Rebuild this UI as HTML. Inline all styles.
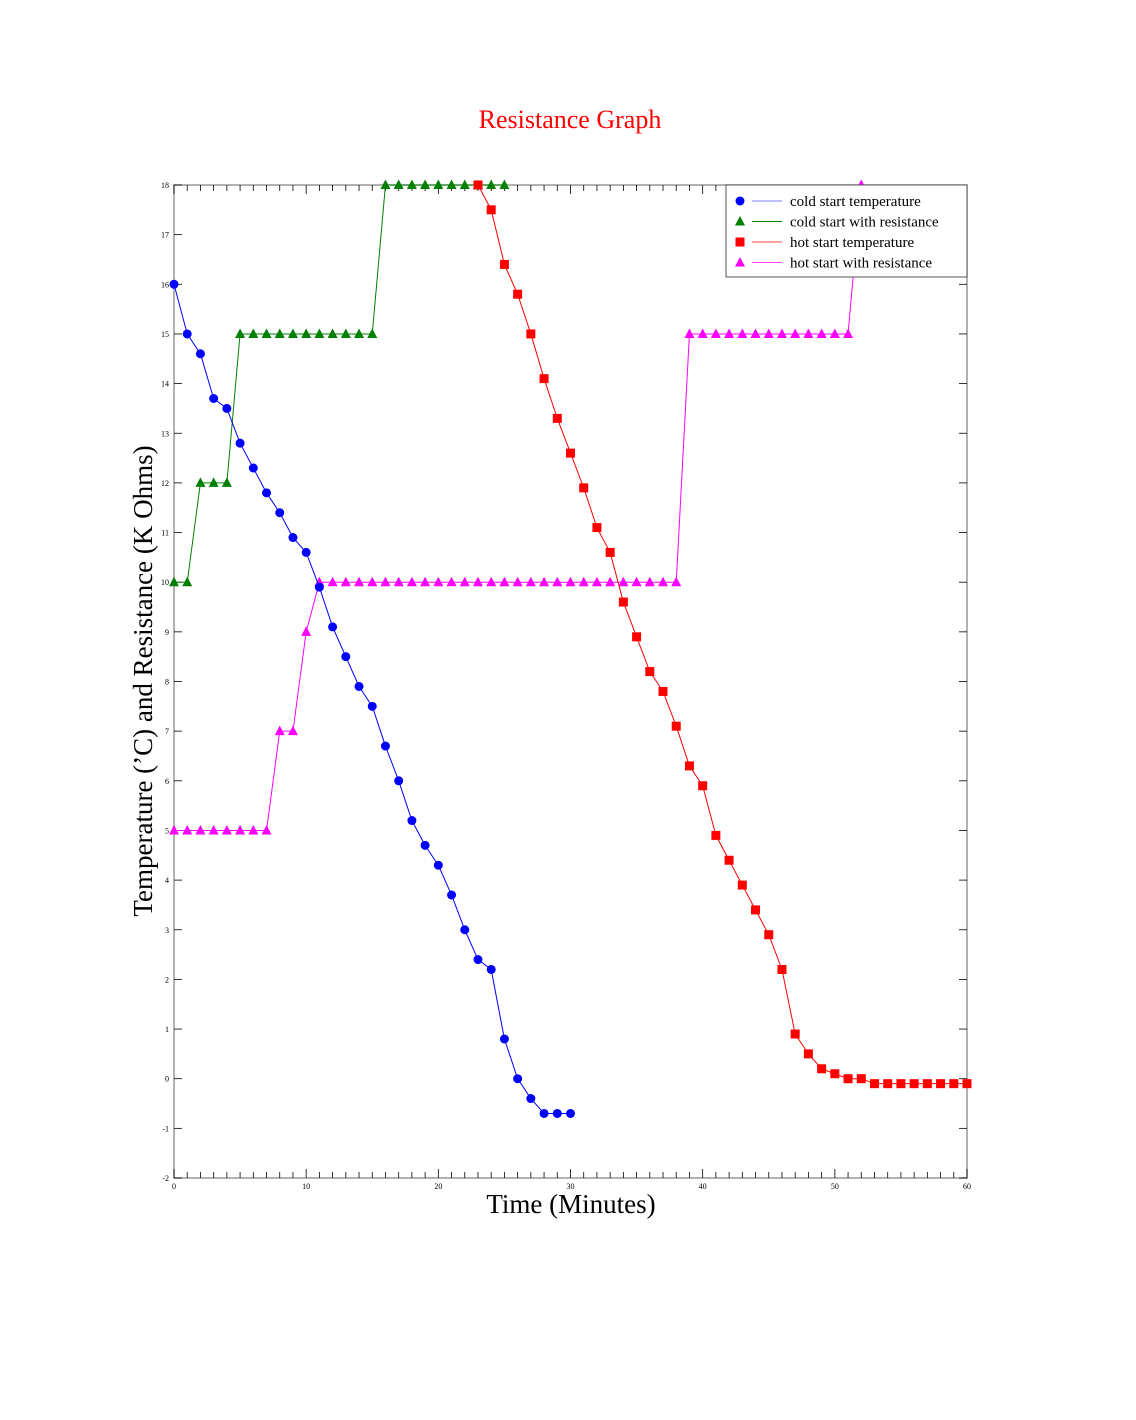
<!DOCTYPE html>
<html><head><meta charset="utf-8"><style>
html,body{margin:0;padding:0;background:#fff}
svg{display:block;font-family:"Liberation Serif",serif}
</style></head><body>
<svg id="chart" width="1136" height="1420" viewBox="0 0 1136 1420">
<text x="570" y="128" text-anchor="middle" font-size="26" fill="#ff0000">Resistance Graph</text>
<text x="571" y="1213" text-anchor="middle" font-size="27" fill="#000">Time (Minutes)</text>
<text transform="translate(152,681) rotate(-90)" text-anchor="middle" font-size="27" fill="#000">Temperature (’C) and Resistance (K Ohms)</text>
<g id="axes"></g>
<g id="series"></g>
<g id="legend"></g>
</svg>
<script>
const coldTime = [0,1,2,3,4,5,6,7,8,9,10,11,12,13,14,15,16,17,18,19,20,21,22,23,24,25,26,27,28,29,30];
const coldTemp = [16,15,14.6,13.7,13.5,12.8,12.3,11.8,11.4,10.9,10.6,9.9,9.1,8.5,7.9,7.5,6.7,6.0,5.2,4.7,4.3,3.7,3.0,2.4,2.2,0.8,0.0,-0.4,-0.7,-0.7,-0.7];
const coldResTime = [0,1,2,3,4,5,6,7,8,9,10,11,12,13,14,15,16,17,18,19,20,21,22,23,24,25];
const coldRes = [10,10,12,12,12,15,15,15,15,15,15,15,15,15,15,15,18,18,18,18,18,18,18,18,18,18];
const hotTime = [23,24,25,26,27,28,29,30,31,32,33,34,35,36,37,38,39,40,41,42,43,44,45,46,47,48,49,50,51,52,53,54,55,56,57,58,59,60];
const hotTemp = [18,17.5,16.4,15.8,15,14.1,13.3,12.6,11.9,11.1,10.6,9.6,8.9,8.2,7.8,7.1,6.3,5.9,4.9,4.4,3.9,3.4,2.9,2.2,0.9,0.5,0.2,0.1,0,0,-0.1,-0.1,-0.1,-0.1,-0.1,-0.1,-0.1,-0.1];
const hotResTime = [0,1,2,3,4,5,6,7,8,9,10,11,12,13,14,15,16,17,18,19,20,21,22,23,24,25,26,27,28,29,30,31,32,33,34,35,36,37,38,39,40,41,42,43,44,45,46,47,48,49,50,51,52];
const hotRes = [5,5,5,5,5,5,5,5,7,7,9,10,10,10,10,10,10,10,10,10,10,10,10,10,10,10,10,10,10,10,10,10,10,10,10,10,10,10,10,15,15,15,15,15,15,15,15,15,15,15,15,15,18];
const xTicks = [0,10,20,30,40,50,60];
const yTicks = [-2,-1,0,1,2,3,4,5,6,7,8,9,10,11,12,13,14,15,16,17,18];
const legendLabels = ["cold start temperature","cold start with resistance","hot start temperature","hot start with resistance"];

const X0=174,X1=967,Y0=1178,Y1=185,XMIN=0,XMAX=60,YMIN=-2,YMAX=18;
const sx=v=>X0+(v-XMIN)/(XMAX-XMIN)*(X1-X0);
const sy=v=>Y0-(v-YMIN)/(YMAX-YMIN)*(Y0-Y1);
const NS="http://www.w3.org/2000/svg";
function mk(tag,attrs,parent){const e=document.createElementNS(NS,tag);for(const k in attrs)e.setAttribute(k,attrs[k]);parent.appendChild(e);return e;}
const axes=document.getElementById('axes'),series=document.getElementById('series'),legend=document.getElementById('legend');

const frame=mk('rect',{x:X0,y:Y1,width:X1-X0,height:Y0-Y1,fill:'none',stroke:'#999','stroke-width':1.5},axes);


for(let m=XMIN;m<=XMAX;m++){
  const len=(m%10===0)?9:6;
  const t1=mk('line',{x1:sx(m),x2:sx(m),y1:Y0,y2:Y0-len,stroke:'#000','stroke-width':0.8},axes);
  
  
  const t2=mk('line',{x1:sx(m),x2:sx(m),y1:Y1,y2:Y1+len,stroke:'#000','stroke-width':0.8},axes);
  
  
}
xTicks.forEach(v=>{
  const t=mk('text',{x:sx(v),y:Y0+11,'text-anchor':'middle','font-size':8,fill:'#000'},axes);t.textContent=v;
  
  
});
yTicks.forEach(v=>{
  const a=mk('line',{x1:X0,x2:X0+8,y1:sy(v),y2:sy(v),stroke:'#000','stroke-width':0.8},axes);
  
  
  const b=mk('line',{x1:X1,x2:X1-8,y1:sy(v),y2:sy(v),stroke:'#000','stroke-width':0.8},axes);
  
  
  const t=mk('text',{x:X0-5,y:sy(v)+3,'text-anchor':'end','font-size':8,fill:'#000'},axes);t.textContent=v;
  
  
});

function marker(shape,x,y,color,parent){
  let e;
  if(shape==='circle') e=mk('circle',{cx:x,cy:y,r:4.5,fill:color},parent);
  else if(shape==='square') e=mk('rect',{x:x-4.5,y:y-4.5,width:9,height:9,fill:color},parent);
  else e=mk('polygon',{points:`${x},${y-5.5} ${x-5},${y+4} ${x+5},${y+4}`,fill:color},parent);
  return e;
}
function drawSeries(xs,ys,color,shape,name){
  const g=mk('g',{},series);
  
  
  const l=mk('polyline',{points:xs.map((x,i)=>sx(x)+','+sy(ys[i])).join(' '),fill:'none',stroke:color,'stroke-width':1},g);
  
  
  xs.forEach((x,i)=>{
    const m=marker(shape,sx(x),sy(ys[i]),color,g);
    
    
  });
}
drawSeries(coldResTime,coldRes,'#008000','tri','cold-start-resistance');
drawSeries(hotResTime,hotRes,'#ff00ff','tri','hot-start-resistance');
drawSeries(hotTime,hotTemp,'#ff0000','square','hot-start-temperature');
drawSeries(coldTime,coldTemp,'#0000ff','circle','cold-start-temperature');

const lb=mk('rect',{x:726,y:185,width:241,height:92,fill:'#fff',stroke:'#555','stroke-width':1},legend);


const lc=['#0000ff','#008000','#ff0000','#ff00ff'],ls=['circle','tri','square','tri'],lineC=['#8080ff','#008000','#ff4040','#ff40ff'];
legendLabels.forEach((s,i)=>{
  const y=201+i*20.5;
  const g=mk('g',{},legend);
  
  
  marker(ls[i],740,y,lc[i],g);
  mk('line',{x1:752,x2:782,y1:y,y2:y,stroke:lineC[i],'stroke-width':1},g);
  const t=mk('text',{x:790,y:y+5,'font-size':15,fill:'#000'},g);t.textContent=s;
});
</script>
</body></html>
